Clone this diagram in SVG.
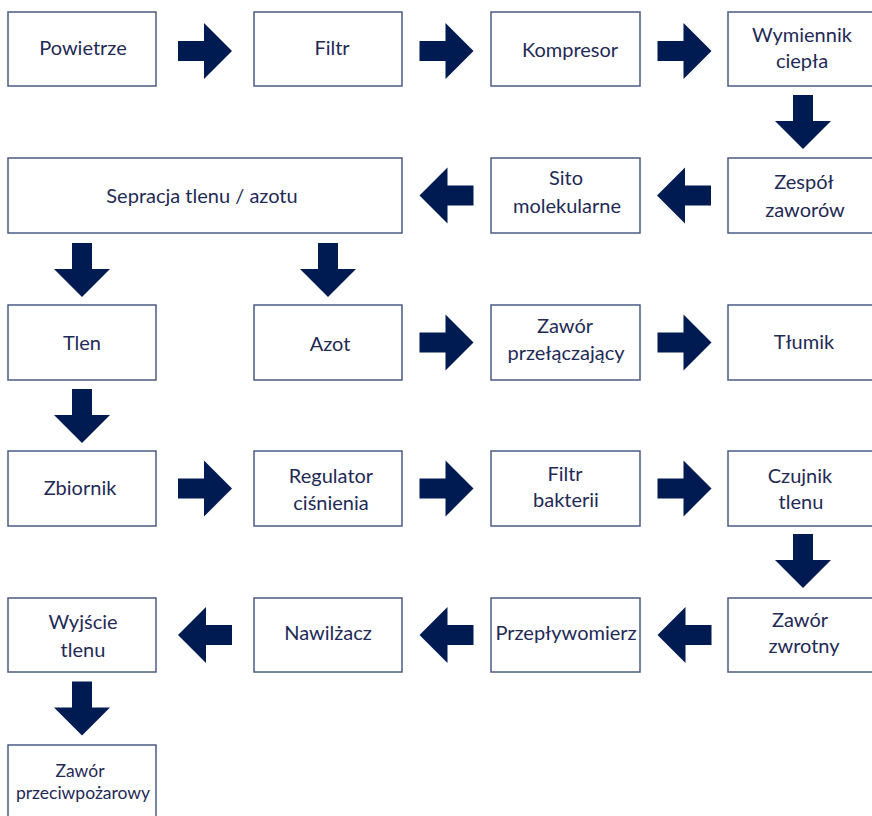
<svg xmlns="http://www.w3.org/2000/svg" xmlns:xlink="http://www.w3.org/1999/xlink" width="872" height="816" viewBox="0 0 872 816">
<style>
.box{fill:#ffffff;stroke:#4a5b85;stroke-width:1.5}
.t{font-family:Lato,"Liberation Sans",sans-serif;font-size:20px;fill:#1f2a56;text-anchor:middle}
.s{font-size:17.5px}
.arr{fill:#001a52}
</style>
<defs>
<path id="ar" d="M-27,-10 H-1 V-28 L27,0 L-1,28 V10 H-27 Z"/>
</defs>
<rect width="872" height="816" fill="#ffffff"/>
<g id="connectors" class="arr">
<use href="#ar" transform="translate(205,51)"/>
<use href="#ar" transform="translate(446.5,51)"/>
<use href="#ar" transform="translate(684.5,51)"/>
<use href="#ar" transform="translate(803,122) rotate(90)"/>
<use href="#ar" transform="translate(684,195.5) rotate(180)"/>
<use href="#ar" transform="translate(446.5,195.5) rotate(180)"/>
<use href="#ar" transform="translate(82,270) rotate(90)"/>
<use href="#ar" transform="translate(328,270) rotate(90)"/>
<use href="#ar" transform="translate(446.5,342.5)"/>
<use href="#ar" transform="translate(684.5,342.5)"/>
<use href="#ar" transform="translate(82,416) rotate(90)"/>
<use href="#ar" transform="translate(205,488.5)"/>
<use href="#ar" transform="translate(446.5,488.5)"/>
<use href="#ar" transform="translate(684.5,488.5)"/>
<use href="#ar" transform="translate(803,561) rotate(90)"/>
<use href="#ar" transform="translate(684.5,635) rotate(180)"/>
<use href="#ar" transform="translate(446.5,635) rotate(180)"/>
<use href="#ar" transform="translate(205,635) rotate(180)"/>
<use href="#ar" transform="translate(82,708.5) rotate(90)"/>
</g>
<g id="powietrze"><rect class="box" x="8" y="12" width="148" height="74"/><text class="t" x="83" y="55">Powietrze</text></g>
<g id="filtr"><rect class="box" x="254" y="12" width="148" height="74"/><text class="t" x="332" y="55">Filtr</text></g>
<g id="kompresor"><rect class="box" x="491" y="12" width="149" height="74"/><text class="t" x="570" y="57">Kompresor</text></g>
<g id="wymiennik"><rect class="box" x="728" y="12" width="148" height="74"/><text class="t" x="802" y="42">Wymiennik</text><text class="t" x="802" y="68">ciepła</text></g>
<g id="separacja"><rect class="box" x="8" y="158" width="394" height="75"/><text class="t" x="202" y="203">Sepracja tlenu / azotu</text></g>
<g id="sito"><rect class="box" x="491" y="158" width="149" height="75"/><text class="t" x="566" y="185">Sito</text><text class="t" x="567" y="213">molekularne</text></g>
<g id="zespol"><rect class="box" x="728" y="158" width="148" height="75"/><text class="t" x="804" y="189">Zespół</text><text class="t" x="805" y="217">zaworów</text></g>
<g id="tlen"><rect class="box" x="8" y="305" width="148" height="75"/><text class="t" x="82" y="350">Tlen</text></g>
<g id="azot"><rect class="box" x="254" y="305" width="148" height="75"/><text class="t" x="330" y="351">Azot</text></g>
<g id="zawor-przel"><rect class="box" x="491" y="305" width="149" height="75"/><text class="t" x="565" y="333">Zawór</text><text class="t" x="566" y="360">przełączający</text></g>
<g id="tlumik"><rect class="box" x="728" y="305" width="148" height="75"/><text class="t" x="804" y="349">Tłumik</text></g>
<g id="zbiornik"><rect class="box" x="8" y="451" width="148" height="75"/><text class="t" x="80" y="495">Zbiornik</text></g>
<g id="regulator"><rect class="box" x="254" y="451" width="148" height="75"/><text class="t" x="331" y="483">Regulator</text><text class="t" x="331" y="510">ciśnienia</text></g>
<g id="filtr-bakterii"><rect class="box" x="491" y="451" width="149" height="75"/><text class="t" x="565" y="481">Filtr</text><text class="t" x="566" y="507">bakterii</text></g>
<g id="czujnik"><rect class="box" x="728" y="451" width="148" height="75"/><text class="t" x="800" y="483">Czujnik</text><text class="t" x="801" y="509">tlenu</text></g>
<g id="wyjscie"><rect class="box" x="8" y="598" width="148" height="74"/><text class="t" x="83" y="629">Wyjście</text><text class="t" x="83" y="657">tlenu</text></g>
<g id="nawilzacz"><rect class="box" x="254" y="598" width="148" height="74"/><text class="t" x="328" y="640">Nawilżacz</text></g>
<g id="przeplywomierz"><rect class="box" x="491" y="598" width="149" height="74"/><text class="t" x="566" y="640">Przepływomierz</text></g>
<g id="zawor-zwrotny"><rect class="box" x="728" y="598" width="148" height="74"/><text class="t" x="800" y="627">Zawór</text><text class="t" x="804" y="653">zwrotny</text></g>
<g id="zawor-przeciw"><rect class="box" x="8" y="745" width="148" height="80"/><text class="t s" x="80" y="777">Zawór</text><text class="t s" x="83" y="799">przeciwpożarowy</text></g>
</svg>
